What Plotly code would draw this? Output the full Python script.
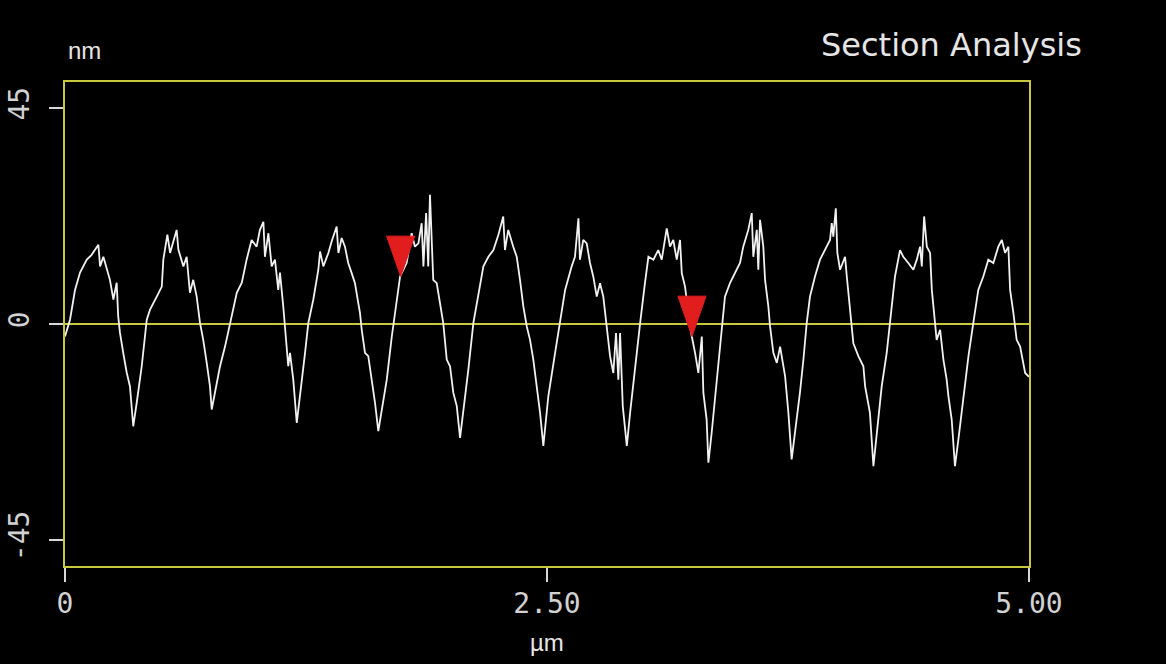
import plotly.graph_objects as go

# ---- data ----
profile_x_um = [
    0.000, 0.026, 0.052, 0.078, 0.113, 0.138, 0.173, 0.182, 0.199, 0.216, 0.233, 0.251, 0.268, 0.276,
    0.285, 0.302, 0.320, 0.337, 0.354, 0.372, 0.398, 0.424, 0.441, 0.476, 0.502, 0.510, 0.531, 0.545,
    0.579, 0.588, 0.614, 0.631, 0.648, 0.665, 0.683, 0.700, 0.717, 0.735, 0.752, 0.761, 0.778, 0.804,
    0.830, 0.856, 0.891, 0.917, 0.942, 0.968, 0.994, 1.011, 1.029, 1.037, 1.055, 1.072, 1.089, 1.106,
    1.115, 1.132, 1.141, 1.158, 1.167, 1.184, 1.202, 1.219,
    1.245, 1.262, 1.288, 1.314, 1.323, 1.340, 1.366, 1.383, 1.409, 1.418, 1.435, 1.452, 1.469, 1.487,
    1.504, 1.521, 1.530, 1.539, 1.556, 1.573, 1.591, 1.608, 1.625, 1.643, 1.669, 1.695, 1.721, 1.738,
    1.772, 1.798, 1.815, 1.833, 1.850, 1.859, 1.873, 1.884, 1.893, 1.902, 1.910, 1.928, 1.945, 1.962,
    1.980, 1.997, 2.014, 2.032, 2.049, 2.066, 2.092, 2.118, 2.144, 2.170, 2.196, 2.222, 2.248, 2.273,
    2.282, 2.299, 2.325, 2.343, 2.360, 2.377, 2.395, 2.412, 2.429, 2.447, 2.464, 2.481,
    2.507, 2.542, 2.568, 2.594, 2.628, 2.645, 2.663, 2.671, 2.688, 2.706, 2.723, 2.740, 2.758, 2.775,
    2.792, 2.810, 2.827, 2.844, 2.858, 2.870, 2.879, 2.893, 2.914, 2.931, 2.957, 2.983, 3.008, 3.026,
    3.052, 3.077, 3.095, 3.121, 3.138, 3.155, 3.173, 3.190, 3.199, 3.216, 3.233, 3.251, 3.268, 3.285,
    3.303, 3.311, 3.328, 3.337, 3.354, 3.380, 3.406, 3.423, 3.449, 3.475, 3.501, 3.518, 3.544, 3.562,
    3.570, 3.588, 3.596, 3.605, 3.622, 3.631, 3.648, 3.657, 3.674, 3.692, 3.709,
    3.735, 3.752, 3.769, 3.787, 3.812, 3.830, 3.847, 3.864, 3.890, 3.916, 3.942, 3.968, 3.977, 3.985,
    3.998, 4.006, 4.020, 4.046, 4.055, 4.072, 4.089, 4.115, 4.141, 4.150, 4.175, 4.193, 4.210, 4.236,
    4.262, 4.279, 4.305, 4.331, 4.348, 4.374, 4.400, 4.418, 4.435, 4.444, 4.456, 4.470, 4.487, 4.496,
    4.513, 4.521, 4.539, 4.556, 4.573, 4.582, 4.599, 4.616, 4.634, 4.660, 4.686, 4.711, 4.737, 4.763,
    4.789, 4.815, 4.841, 4.859, 4.876, 4.893, 4.902, 4.919, 4.936, 4.954, 4.980, 5.000,
]
profile_height_nm = [
    -2.6, 0.9, 7.1, 10.7, 13.4, 14.4, 16.5, 12.0, 14.0, 11.3, 9.2, 5.1, 8.6, 1.6,
    -1.8, -6.0, -10.1, -13.0, -21.3, -16.4, -8.8, 0.9, 3.0, 5.7, 7.8, 13.4, 18.6, 14.8,
    19.6, 15.5, 12.0, 14.0, 6.5, 9.2, 5.7, 0.3, -3.3, -8.1, -13.0, -17.8, -14.3, -8.8,
    -4.7, 0.3, 6.5, 8.6, 13.4, 17.5, 16.1, 19.6, 21.3, 14.0, 18.9, 12.0, 13.4, 7.1,
    10.7, 3.7, -0.5, -8.8, -6.0, -11.6, -20.6, -14.3,
    -6.0, 0.2, 5.1, 11.3, 15.1, 12.0, 14.8, 17.2, 20.3, 14.8, 17.9, 16.1, 12.7, 10.6,
    8.5, 4.4, 2.3, -1.2, -6.0, -6.7, -11.6, -16.4, -22.3, -17.8, -11.6, -2.6, 5.7, 9.9,
    12.7, 18.9, 16.1, 16.8, 21.0, 12.0, 23.1, 12.0, 26.9, 17.5, 9.2, 8.5, 4.4, 0.2,
    -7.4, -8.8, -14.3, -17.1, -23.7, -18.5, -9.5, 0.2, 6.4, 12.0, 14.0, 15.4, 18.6, 22.4,
    15.4, 19.6, 16.1, 14.0, 9.2, 3.7, -0.5, -3.3, -7.4, -13.0, -18.5, -25.4,
    -15.0, -6.0, 0.2, 7.1, 12.0, 14.0, 22.0, 13.4, 17.5, 16.8, 12.7, 9.9, 5.7, 8.5,
    5.7, -0.5, -6.7, -10.2, -1.9, -11.6, -1.9, -17.1, -25.4, -18.5, -8.8, 0.2, 8.5, 14.0,
    13.4, 15.4, 13.4, 19.9, 16.1, 17.5, 13.4, 17.5, 10.6, 7.8, 2.3, -2.6, -6.0, -10.2,
    -2.6, -14.3, -19.9, -28.9, -22.7, -11.6, -1.2, 5.7, 8.5, 10.6, 12.7, 16.1, 19.6, 23.1,
    14.0, 19.6, 11.3, 21.7, 16.1, 9.2, 3.7, -0.5, -6.0, -8.1, -4.7,
    -10.9, -18.5, -28.2, -22.7, -14.3, -7.4, 0.2, 5.7, 9.9, 13.4, 15.4, 17.5, 21.0, 18.2,
    24.1, 14.8, 11.3, 14.0, 9.9, 2.3, -4.0, -6.7, -8.8, -13.0, -18.5, -29.6, -22.7, -13.0,
    -6.0, 0.2, 9.9, 15.4, 14.0, 12.7, 11.3, 13.4, 16.1, 12.0, 22.4, 16.1, 14.8, 7.1,
    0.9, -3.3, -1.2, -7.4, -11.6, -15.0, -19.9, -29.6, -24.0, -15.0, -6.7, 0.2, 7.1, 9.9,
    13.4, 12.7, 16.1, 17.5, 14.8, 16.1, 7.1, 2.3, -3.3, -4.7, -10.2, -11.0,
]

cursor_x_um = [1.741, 3.252]
cursor_y_nm = [9.9, -2.6]

x_tick_vals = [0, 2.5, 5.0]
x_tick_text = ["0", "2.50", "5.00"]
y_tick_vals = [-45, 0, 45]
y_tick_text = ["-45", "0", "45"]

# ---- style ----
YELLOW = "#c8c83c"
TXT = "#e6e6e6"
TICKTXT = "#d2d2d2"
MONO = "DejaVu Sans Mono"
SANS = "DejaVu Sans"
TRI_HALF_W = 0.073   # µm
TRI_H = 8.4          # nm

fig = go.Figure()

# zero line
fig.add_trace(go.Scatter(x=[0, 5], y=[0, 0], mode="lines",
                         line=dict(color=YELLOW, width=2), hoverinfo="skip", showlegend=False))

# profile
fig.add_trace(go.Scatter(x=profile_x_um, y=profile_height_nm, mode="lines",
                         line=dict(color="#f2f2f2", width=1.8), showlegend=False))

# red cursor triangles
for cx, cy in zip(cursor_x_um, cursor_y_nm):
    fig.add_trace(go.Scatter(
        x=[cx - TRI_HALF_W, cx + TRI_HALF_W, cx, cx - TRI_HALF_W],
        y=[cy + TRI_H, cy + TRI_H, cy, cy + TRI_H],
        mode="lines", fill="toself", fillcolor="#e21d1d",
        line=dict(color="#e21d1d", width=1), showlegend=False, hoverinfo="skip"))

fig.update_layout(
    width=1166, height=664,
    margin=dict(l=65, r=137, t=82, b=98),
    paper_bgcolor="#000000", plot_bgcolor="#000000",
    showlegend=False,
    xaxis=dict(range=[0, 5], tickvals=x_tick_vals, ticktext=x_tick_text,
               showgrid=False, zeroline=False, automargin=False,
               showline=True, mirror=True, linecolor=YELLOW, linewidth=2,
               ticks="outside", ticklen=14, tickwidth=1.5, tickcolor="#d8d8d8",
               ticklabelstandoff=-3,
               tickfont=dict(family=MONO, size=28, color=TICKTXT)),
    yaxis=dict(range=[-50.4, 50.4], tickvals=y_tick_vals, ticktext=y_tick_text,
               showgrid=False, zeroline=False, automargin=False,
               showline=True, mirror=True, linecolor=YELLOW, linewidth=2,
               ticks="outside", ticklen=14, tickwidth=1.5, tickcolor="#d8d8d8",
               tickangle=-90, ticklabelstandoff=9,
               tickfont=dict(family=MONO, size=28, color=TICKTXT)),
    annotations=[
        dict(text="nm", xref="paper", yref="paper", x=0.0207, y=1.066,
             showarrow=False, font=dict(family="Liberation Sans", size=24, color=TXT),
             xanchor="center", yanchor="middle"),
        dict(text="µm", xref="paper", yref="paper", x=0.5, y=-0.159,
             showarrow=False, font=dict(family="Liberation Sans", size=24, color=TXT),
             xanchor="center", yanchor="middle"),
        dict(text="Section Analysis", xref="paper", yref="paper", x=0.920, y=1.076,
             showarrow=False, font=dict(family=SANS, size=32, color=TXT),
             xanchor="center", yanchor="middle"),
    ],
)

fig.write_html("out.html", config={"displayModeBar": False},
               post_script="document.body.style.margin='0';document.body.style.background='#000';")
